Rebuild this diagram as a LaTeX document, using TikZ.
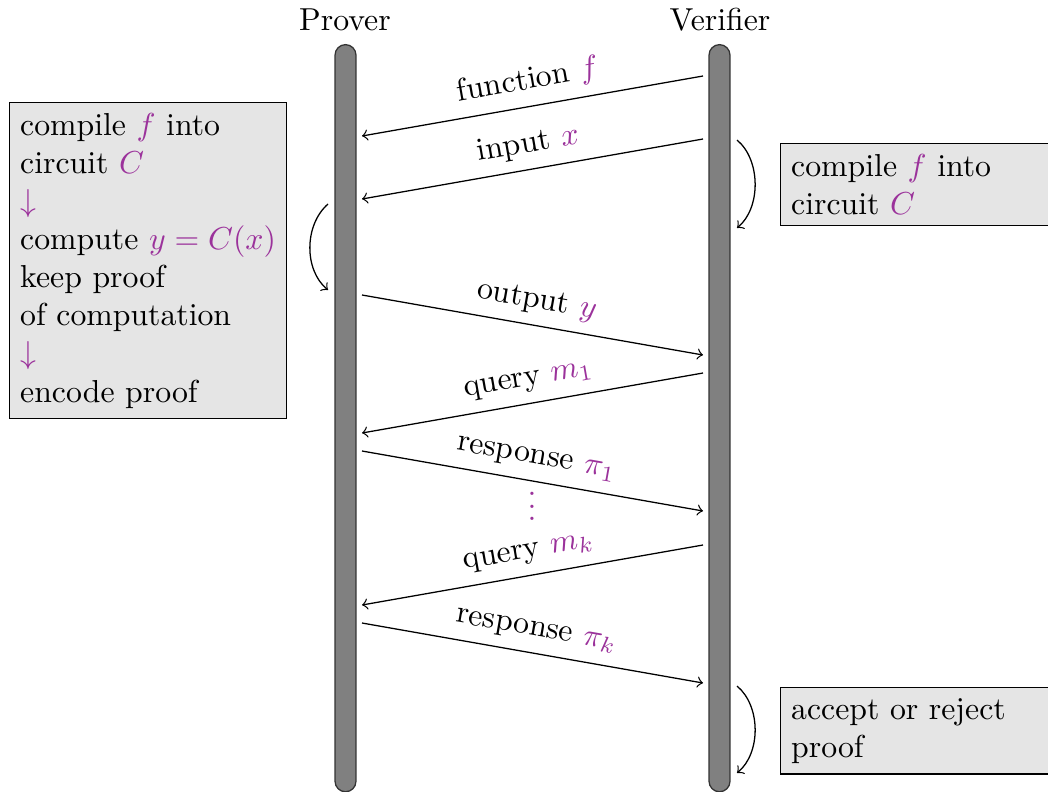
\documentclass[tikz,border=0pt]{standalone}
\usepackage{xcolor}
\definecolor{pur}{RGB}{155,50,155}
\begin{document}
\begin{tikzpicture}[x=0.3148pt,y=-0.3148pt,
  bar/.style={draw=black!80, fill=gray, rounded corners=3.3pt, line width=0.4pt,
    minimum width=6.6pt, minimum height=235.2pt, inner sep=0pt, anchor=north},
  box/.style={draw=black, fill=gray!20, align=left, anchor=north west, inner sep=3.33pt},
  msg/.style={->},
  lab/.style={midway, above, sloped},
  curv/.style={->}]
\clip (0,0) rectangle (1048,791);
% lifelines
\node[bar] (PB) at (345.5,44) {};
\node[bar] (VB) at (719.5,44) {};
\node[anchor=base] (Pl) at (345,30) {Prover};
\node[anchor=base] (Vl) at (720,30) {Verifier};
% endpoints
\coordinate (v1) at (703,76);  \coordinate (p1) at (362,136);
\coordinate (v2) at (703,139); \coordinate (p2) at (362,199);
\coordinate (p3) at (362,295); \coordinate (v3) at (703,355);
\coordinate (v4) at (703,373); \coordinate (p4) at (362,433);
\coordinate (p5) at (362,451); \coordinate (v5) at (703,511);
\coordinate (v6) at (703,545); \coordinate (p6) at (362,605);
\coordinate (p7) at (362,623); \coordinate (v7) at (703,683);
% messages
\draw[msg] (v1) -- node[lab] (l1) {function \textcolor{pur}{$f$}} (p1);
\draw[msg] (v2) -- node[lab] (l2) {input \textcolor{pur}{$x$}} (p2);
\draw[msg] (p3) -- node[lab] (l3) {output \textcolor{pur}{$y$}} (v3);
\draw[msg] (v4) -- node[lab] (l4) {query \textcolor{pur}{$m_1$}} (p4);
\draw[msg] (p5) -- node[lab] (l5) {response \textcolor{pur}{$\pi_1$}} (v5);
\node[text=pur, inner sep=0pt] (dots) at (532,497) {$\vdots$};
\draw[msg] (v6) -- node[lab] (l6) {query \textcolor{pur}{$m_k$}} (p6);
\draw[msg] (p7) -- node[lab] (l7) {response \textcolor{pur}{$\pi_k$}} (v7);
% self loops
\coordinate (ps) at (328,204); \coordinate (pe) at (328,290);
\coordinate (vs1) at (737,140); \coordinate (ve1) at (737,228);
\coordinate (vs2) at (737,686); \coordinate (ve2) at (737,773);
\draw[curv] (ps) .. controls (304,225) and (304,270) .. (pe);
\draw[curv] (vs1) .. controls (761,160) and (761,208) .. (ve1);
\draw[curv] (vs2) .. controls (761,706) and (761,753) .. (ve2);
% boxes
\node[box] (L) at (9,102) {compile \textcolor{pur}{$f$} into\\ circuit \textcolor{pur}{$C$}\\ \textcolor{pur}{$\downarrow$}\\ compute \textcolor{pur}{$y=C(x)$}\\ keep proof\\ of computation\\ \textcolor{pur}{$\downarrow$}\\ encode proof};
\node[box, text width=100pt] (R1) at (780,143) {compile \textcolor{pur}{$f$} into\\ circuit \textcolor{pur}{$C$}};
\node[box, text width=100pt] (R2) at (780,687) {accept or reject\\ proof};
\end{tikzpicture}
\end{document}
